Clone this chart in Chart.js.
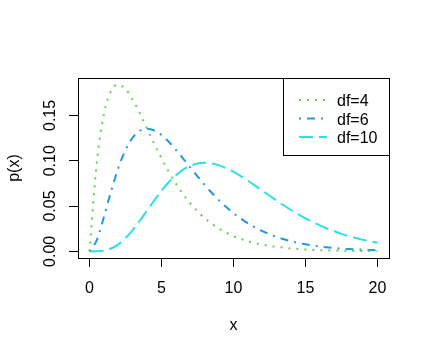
<!DOCTYPE html>
<html>
<head>
<meta charset="utf-8">
<script src="https://cdn.jsdelivr.net/npm/chart.js@4"></script>
<style>
html,body{margin:0;padding:0;background:#fff;}
canvas{display:block;}
</style>
</head>
<body>
<canvas id="c" width="430" height="356"></canvas>
<script>
// x grid values
const xs = [0,0.5,1,1.5,2,2.5,3,3.5,4,4.5,5,5.5,6,6.5,7,7.5,8,8.5,9,9.5,10,10.5,11,11.5,12,12.5,13,13.5,14,14.5,15,15.5,16,16.5,17,17.5,18,18.5,19,19.5,20];
// density values
const df4 = [0,0.0974,0.1516,0.1771,0.1839,0.1791,0.1674,0.1521,0.1353,0.1186,0.1026,0.0879,0.0747,0.0630,0.0528,0.0441,0.0366,0.0303,0.0250,0.0206,0.0168,0.0138,0.0112,0.0092,0.0074,0.0060,0.0049,0.0040,0.0032,0.0026,0.0021,0.0017,0.0013,0.0011,0.0009,0.0007,0.0006,0.0004,0.0004,0.0003,0.0002];
const df6 = [0,0.0122,0.0379,0.0664,0.0920,0.1119,0.1255,0.1331,0.1353,0.1334,0.1283,0.1209,0.1120,0.1024,0.0925,0.0827,0.0733,0.0644,0.0562,0.0488,0.0421,0.0362,0.0309,0.0263,0.0223,0.0189,0.0159,0.0133,0.0112,0.0093,0.0078,0.0065,0.0054,0.0044,0.0037,0.0030,0.0025,0.0021,0.0017,0.0014,0.0011];
const df10 = [0,0.0001,0.0008,0.0031,0.0077,0.0146,0.0235,0.0340,0.0451,0.0563,0.0668,0.0762,0.0840,0.0901,0.0944,0.0969,0.0977,0.0970,0.0949,0.0918,0.0877,0.0831,0.0779,0.0725,0.0669,0.0614,0.0559,0.0506,0.0456,0.0409,0.0365,0.0324,0.0286,0.0252,0.0221,0.0193,0.0168,0.0147,0.0127,0.0110,0.0095];
const seriesNames = ['df=4','df=6','df=10'];
const xTicks = [0,5,10,15,20];
const yTicks = [0,0.05,0.10,0.15];

const FONT = "'Liberation Sans', Arial, sans-serif";
const colors = ['#61D04F','#2297E6','#28E2E5'];
const dashes = [[2,6],[2,6,8,6],[14,6]];

function pts(ys){ return xs.map((x,i)=>({x:x, y:ys[i]})); }

const boxPlugin = {
  id:'rbox',
  afterDraw(chart){
    const ctx = chart.ctx, a = chart.chartArea;
    ctx.save();
    ctx.strokeStyle = '#000';
    ctx.lineWidth = 1;
    ctx.setLineDash([]);
    ctx.strokeRect(Math.round(a.left)+0.5, Math.round(a.top)+0.5, Math.round(a.right-a.left), Math.round(a.bottom-a.top));
    // legend (topright)
    const lw = 106, lh = 77;
    const lx = Math.round(a.right) - lw, ly = Math.round(a.top);
    ctx.fillStyle = '#fff';
    ctx.fillRect(lx+0.5, ly+0.5, lw, lh);
    ctx.strokeRect(lx+0.5, ly+0.5, lw, lh);
    ctx.font = '16px ' + FONT;
    ctx.textBaseline = 'alphabetic';
    ctx.textAlign = 'left';
    chart.data.datasets.forEach((ds, i) => {
      const yy = ly + 22 + i*18.5;
      ctx.strokeStyle = ds.borderColor;
      ctx.lineWidth = 2;
      ctx.lineCap = 'butt';
      ctx.setLineDash(ds.borderDash);
      ctx.beginPath();
      ctx.moveTo(lx + 16, yy);
      ctx.lineTo(lx + 44, yy);
      ctx.stroke();
      ctx.setLineDash([]);
      ctx.fillStyle = '#000';
      ctx.fillText(ds.label, lx + 54, yy + 6);
    });
    ctx.restore();
  }
};

new Chart(document.getElementById('c'), {
  type:'line',
  data:{
    datasets:[df4, df6, df10].map((ys,i)=>({
      label: seriesNames[i],
      data: pts(ys),
      borderColor: colors[i],
      backgroundColor: colors[i],
      borderWidth: 2,
      borderDash: dashes[i],
      borderCapStyle: 'butt',
      pointRadius: 0,
      fill: false,
      cubicInterpolationMode: 'monotone'
    }))
  },
  options:{
    responsive:false,
    animation:false,
    devicePixelRatio:1,
    layout:{padding:{left:0, top:78, right:41, bottom:0}},
    plugins:{legend:{display:false}, tooltip:{enabled:false}},
    scales:{
      x:{
        type:'linear',
        min:-0.8, max:20.8,
        afterBuildTicks(s){ s.ticks = xTicks.map(v=>({value:v})); },
        afterFit(s){ s.height = 98; },
        grid:{drawOnChartArea:false, drawTicks:true, tickLength:9, tickColor:'#000', tickWidth:1},
        border:{display:false},
        ticks:{color:'#000', font:{family:FONT, size:16}, padding:11.7, maxRotation:0, minRotation:0, callback:v=>String(v)},
        title:{display:true, text:'x', color:'#000', font:{family:FONT, size:16}, padding:{top:0, bottom:20.4}}
      },
      y:{
        type:'linear',
        min:-0.00736, max:0.1913,
        afterBuildTicks(s){ s.ticks = yTicks.map(v=>({value:v})); },
        afterFit(s){ s.width = 78; },
        grid:{drawOnChartArea:false, drawTicks:true, tickLength:9, tickColor:'#000', tickWidth:1},
        border:{display:false},
        ticks:{color:'#000', font:{family:FONT, size:16}, padding:2.4, minRotation:90, maxRotation:90, crossAlign:'center', callback:v=>v.toFixed(2)},
        title:{display:true, text:'p(x)', color:'#000', font:{family:FONT, size:16}, padding:{top:5.4, bottom:0}}
      }
    }
  },
  plugins:[boxPlugin]
});
</script>
</body>
</html>
